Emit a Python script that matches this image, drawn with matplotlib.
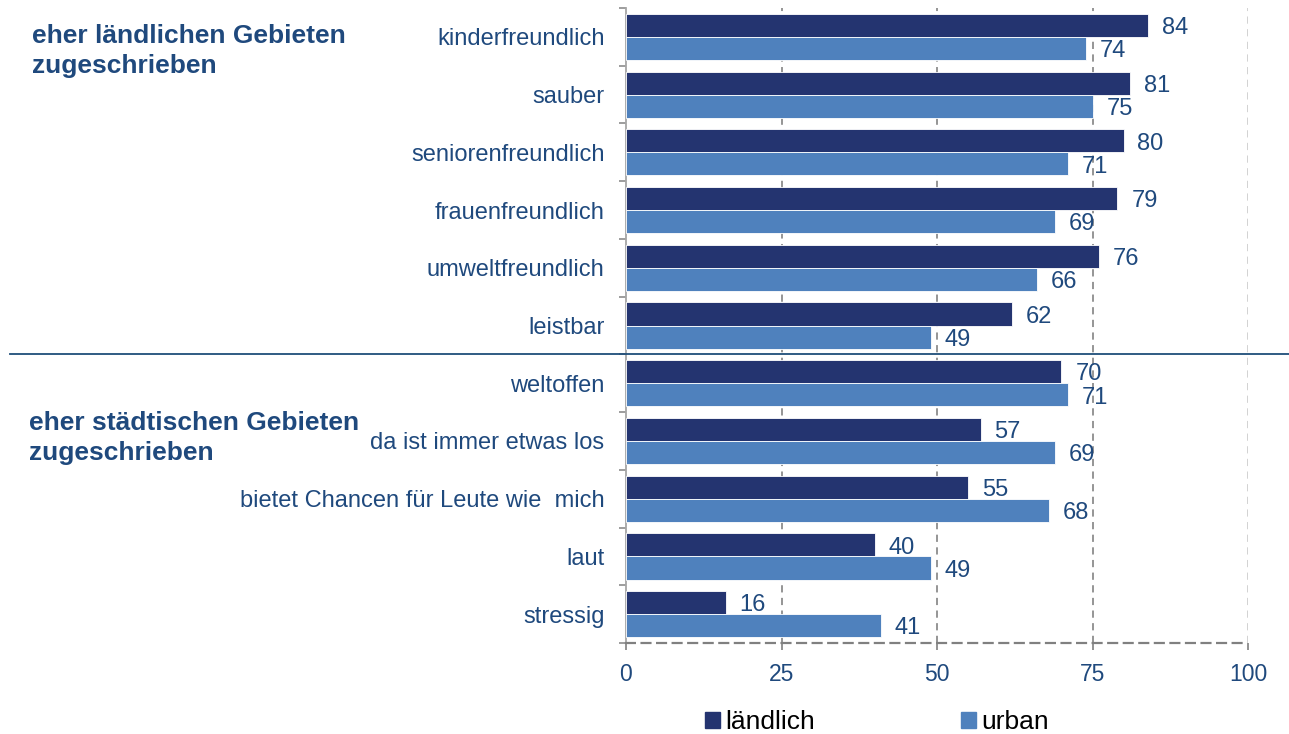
import matplotlib
matplotlib.use("Agg")
import matplotlib.pyplot as plt
import numpy as np
from matplotlib.patches import Patch
from matplotlib.lines import Line2D

categories = ["kinderfreundlich", "sauber", "seniorenfreundlich", "frauenfreundlich",
              "umweltfreundlich", "leistbar", "weltoffen", "da ist immer etwas los",
              "bietet Chancen für Leute wie  mich", "laut", "stressig"]
laendlich = [84, 81, 80, 79, 76, 62, 70, 57, 55, 40, 16]
urban = [74, 75, 71, 69, 66, 49, 71, 69, 68, 49, 41]
xticks = [0, 25, 50, 75, 100]
series_names = ["ländlich", "urban"]
group_titles = ["eher ländlichen Gebieten\nzugeschrieben", "eher städtischen Gebieten\nzugeschrieben"]

plt.rcParams['font.family'] = ['Liberation Sans', 'DejaVu Sans']
TXT = "#1F497D"
DARK = "#243470"
LIGHT = "#4F81BD"

fig = plt.figure(figsize=(12.89, 7.34), dpi=100)
ax = fig.add_axes([626/1289, 1-643/734, (1248-626)/1289, (643-8)/734])

n = len(categories)
y = np.arange(n)
h = 0.4
ax.barh(y - h/2, laendlich, height=h, color=DARK, edgecolor="white", linewidth=0.6, zorder=3)
ax.barh(y + h/2, urban, height=h, color=LIGHT, edgecolor="white", linewidth=0.6, zorder=3)

for i in range(n):
    ax.annotate(str(laendlich[i]), (laendlich[i], y[i] - h/2), xytext=(10, -2),
                textcoords="offset points", va="center", ha="left", fontsize=17, color=TXT, zorder=4)
    ax.annotate(str(urban[i]), (urban[i], y[i] + h/2), xytext=(10, -2),
                textcoords="offset points", va="center", ha="left", fontsize=17, color=TXT, zorder=4)

ax.set_ylim(n - 0.5, -0.5)
ax.set_xlim(0, 100)
ax.set_yticks(y)
ax.set_yticklabels(categories, fontsize=17, color=TXT)
ax.tick_params(axis="y", length=0, pad=15.5)
ax.set_yticks(np.arange(-0.5, n, 1), minor=True)
ax.tick_params(axis="y", which="minor", length=5, color="#8C8C8C", width=1.2)
ax.set_xticks(xticks)
ax.set_xticklabels([str(t) for t in xticks], fontsize=16.5, color=TXT)
ax.tick_params(axis="x", length=5, color="#808080", width=1.2, pad=9.5)

for t in xticks[1:4]:
    ax.axvline(t, color="#8C8C8C", linestyle=(0, (4, 3)), linewidth=1.3, zorder=1)
ax.axvline(100, color="#CFCFCF", linestyle=(0, (4, 3)), linewidth=1.3, zorder=1)

for s in ["top", "right"]:
    ax.spines[s].set_visible(False)
ax.spines["left"].set_color("#A6A6A6")
ax.spines["left"].set_linewidth(1.3)
ax.spines["bottom"].set_color("#808080")
ax.spines["bottom"].set_linewidth(1.6)
ax.spines["bottom"].set_linestyle((0, (4, 3)))

# separator line between groups (figure-wide)
fig.add_artist(Line2D([10/1289, 1.0], [1-354/734, 1-354/734], color="#1F4E79", linewidth=1.3))

fig.text(32/1289, 1-73/734, group_titles[0], fontsize=19, fontweight="bold", color=TXT,
         va="baseline", ha="left", linespacing=1.33)
fig.text(29/1289, 1-460/734, group_titles[1], fontsize=19, fontweight="bold", color=TXT,
         va="baseline", ha="left", linespacing=1.33)

handles = [Patch(color=DARK), Patch(color=LIGHT)]
fig.legend(handles, series_names, loc="center", bbox_to_anchor=(877/1289, 1-722/734), ncol=2,
           frameon=False, fontsize=19, handlelength=0.55, handleheight=0.55,
           handletextpad=0.2, columnspacing=5.55, labelcolor="black",
           borderpad=0, borderaxespad=0)

fig.savefig("out.png", dpi=100)
